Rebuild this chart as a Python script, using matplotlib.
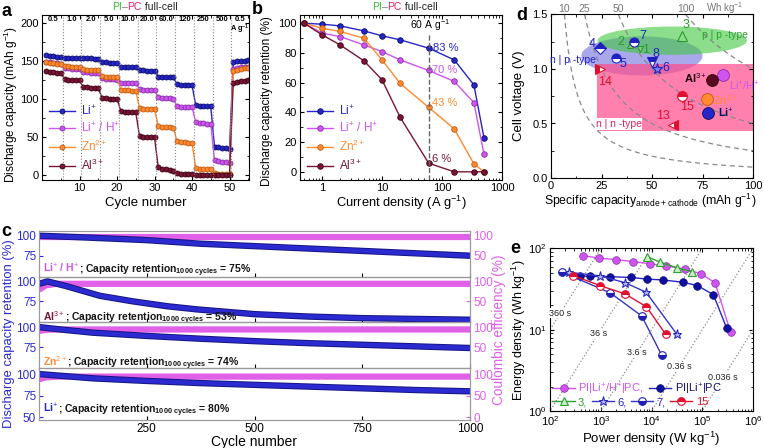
import numpy as np
import matplotlib
matplotlib.use('Agg')
import matplotlib.pyplot as plt
from matplotlib.patches import Ellipse, Rectangle
import matplotlib.patheffects as pe
from matplotlib.ticker import FormatStrFormatter, FixedLocator, FixedFormatter

plt.rcParams['font.family'] = ['Liberation Sans', 'DejaVu Sans']
plt.rcParams['mathtext.fontset'] = 'custom'
plt.rcParams['mathtext.rm'] = 'Liberation Sans'
plt.rcParams['mathtext.bf'] = 'Liberation Sans:bold'
plt.rcParams['mathtext.it'] = 'Liberation Sans:italic'
plt.rcParams['font.size'] = 7.5
plt.rcParams['axes.linewidth'] = 0.8

# ---------------- data ----------------
# panel a: rate capability, 5 cycles per rate
rates_a = ['0.5', '1.0', '2.0', '5.0', '10.0', '20.0', '60.0', '120', '250', '500']
cap_li = [157, 156, 156, 155, 155, 154, 154, 154, 153, 153, 153, 153, 153, 152, 152,
          148, 148, 147, 147, 147, 142, 142, 141, 141, 141, 138, 138, 137, 137, 137,
          129, 129, 128, 128, 128, 119, 118, 118, 118, 118, 91, 90, 90, 90, 90,
          37, 36, 35, 35, 34, 148, 149, 150, 150, 151]
cap_lih = [148, 148, 147, 147, 146, 140, 140, 139, 139, 139, 135, 135, 134, 134, 134,
           127, 126, 126, 126, 125, 121, 121, 120, 120, 120, 113, 112, 112, 112, 111,
           102, 101, 101, 101, 100, 90, 89, 89, 89, 89, 69, 68, 68, 67, 67,
           19, 18, 17, 17, 16, 139, 140, 141, 141, 142]
cap_zn = [148, 147, 147, 146, 146, 143, 143, 142, 142, 142, 139, 138, 138, 138, 138,
          130, 129, 129, 128, 128, 112, 111, 111, 110, 110, 88, 87, 87, 86, 86,
          64, 63, 63, 63, 62, 44, 43, 43, 42, 42, 9, 8, 7, 7, 7,
          2, 1, 1, 1, 1, 137, 138, 139, 140, 140]
cap_al = [136, 135, 135, 134, 134, 126, 125, 125, 124, 124, 115, 115, 114, 114, 114,
          101, 101, 100, 100, 100, 84, 83, 83, 82, 82, 51, 50, 49, 49, 49,
          10, 8, 7, 6, 5, 2, 1, 1, 1, 1, 0, 0, 0, 0, 0,
          0, 0, 0, 0, 0, 121, 122, 123, 123, 124]

# panel b: retention vs current density
cd_b = [0.5, 1, 2, 5, 10, 20, 60, 160, 340, 500]
ret_li = [100, 99.3, 98.2, 94.8, 91.5, 88.8, 83.2, 75.3, 58.5, 23]
ret_lih = [100, 93.3, 91, 85.4, 80.9, 75.3, 68.2, 60.8, 46.6, 12]
ret_zn = [100, 96.6, 94.4, 89.9, 75.3, 59.6, 43.3, 28.9, 5.4, 0]
ret_al = [100, 92.2, 85.4, 74.7, 61.9, 36.8, 5.8, 0, 0, 0]

# panel c: long cycling (retention %, coulombic efficiency %)
c_cyc_lih = [0, 100, 250, 375, 500, 625, 750, 875, 1000]
c_ret_lih = [100, 98, 94.5, 90, 87, 84, 81, 78, 75]
c_cyc_al = [0, 20, 64, 141, 218, 296, 366, 500, 625, 750, 875, 1000]
c_ret_al = [97, 100, 94, 82, 75, 69, 65, 59, 56, 54, 53, 52]
c_cyc_zn = [0, 50, 125, 250, 375, 500, 625, 750, 875, 1000]
c_ret_zn = [100, 97, 93, 89, 85.5, 82.5, 80, 78, 76, 74]
c_cyc_li = [0, 50, 125, 250, 375, 500, 625, 750, 875, 1000]
c_ret_li = [100, 98, 95, 92, 89.5, 87.5, 85.5, 83.5, 81.5, 80]
ce_cyc = [0, 15, 40, 1000]
ce_lih = [97, 97, 97, 97]
ce_al = [79, 90, 94, 94]
ce_zn = [90, 93, 94, 94]
ce_li = [88, 92, 94, 94]
c_labels = [r'Li$^{+}$ / H$^{+}$', r'Al$^{3+}$', r'Zn$^{2+}$', r'Li$^{+}$']
c_retention = ['75%', '53%', '74%', '80%']

# panel d: voltage vs capacity
d_energy = [10, 25, 50, 100]
d_ref_ids = ['1', '2', '3', '4', '5', '6', '7', '8', '13', '14', '15']
d_ref_cap = [44, 39, 65, 24.4, 32, 52.6, 41.1, 50.2, 60.2, 24.5, 64.7]
d_ref_volt = [1.18, 1.22, 1.30, 1.195, 1.098, 0.997, 1.245, 1.06, 0.49, 0.997, 0.752]
d_ion_cap = [77.9, 85.1, 77.1, 79.6]
d_ion_volt = [0.60, 0.942, 0.722, 0.899]

# panel e: Ragone
e_p_lih = [440, 935, 1990, 4370, 9300, 19400, 45700, 93000, 178000, 363000]
e_e_lih = [82, 76, 73, 69, 65, 61, 56, 49, 38, 9.3]
e_p_li = [390, 620, 1520, 3900, 8300, 16600, 41000, 80000, 166000, 302000]
e_e_li = [46, 45.5, 45, 44, 42, 41, 38.5, 35, 27, 10.5]
e_p_3 = [8300, 14800, 31600, 61700]
e_e_3 = [79, 68, 58, 52]
e_p_6 = [240, 966, 3000, 7800, 31600]
e_e_6 = [51, 46, 38, 29, 8.8]
e_p_7 = [175, 1530, 6400, 15800]
e_e_7 = [51, 28.5, 14.8, 4.9]
e_p_15 = [286, 958, 2980, 7950, 19000]
e_e_15 = [46.5, 35, 27.7, 19.2, 8.8]
e_times = ['360 s', '36 s', '3.6 s', '0.36 s', '0.036 s']

# ---------------- style ----------------
C_LI, E_LI = '#2525c8', '#0c0c66'
C_LIH, E_LIH = '#cf55f0', '#8a2aa8'
C_ZN, E_ZN = '#ff8a30', '#c05a10'
C_AL, E_AL = '#7a1535', '#3a0010'
C_PI, C_PC = '#33bb33', '#e0206a'
C_BLUE = '#2a2ad0'
C_MAG = '#e060e8'
GREY = '#777777'

W, H = 764, 448
fig = plt.figure(figsize=(W / 100, H / 100), dpi=100)


def rect(l, t, r, b):
    return [l / W, 1 - b / H, (r - l) / W, (b - t) / H]


def ftext(x, y, s, **kw):
    return fig.text(x / W, 1 - y / H, s, **kw)


def inticks(ax):
    ax.tick_params(which='both', direction='in', top=True, right=True)
    ax.tick_params(which='major', length=3, pad=2.5)
    ax.tick_params(which='minor', length=1.8)


def chain(ax, x, y, parts, **kw):
    # colored pieces of text placed one after another on the same baseline
    tr = fig.transFigure
    fig.canvas.draw()
    t = ax.text(x, y, parts[0][0], color=parts[0][1], transform=tr,
                va='baseline', ha='left', **kw)
    for s, c in parts[1:]:
        fig.canvas.draw()
        bb = t.get_window_extent()
        nx = tr.inverted().transform((bb.x1, bb.y0))[0]
        t = ax.text(nx, y, s, color=c, transform=tr, va='baseline', ha='left', **kw)


series = [('Li$^{+}$', C_LI, E_LI), ('Li$^{+}$ / H$^{+}$', C_LIH, E_LIH),
          ('Zn$^{2+}$', C_ZN, E_ZN), ('Al$^{3+}$', C_AL, E_AL)]

# ---------------- panel a ----------------
axa = fig.add_axes(rect(42, 15, 249, 180))
cycles = np.arange(1, len(cap_li) + 1)
for vals, (lab, col, ecol) in zip([cap_li, cap_lih, cap_zn, cap_al], series):
    axa.plot(cycles, vals, '-o', color=col, mfc=col, mec=ecol, ms=3.6, mew=0.6,
             lw=1.0, label=lab)
for k in range(1, 11):
    axa.axvline(5 * k + 0.5, color='#888888', ls=':', lw=0.8)
for k, r in enumerate(rates_a):
    axa.text(5 * k + 3, 204, r, ha='center', va='center', fontsize=5.5, fontweight='bold')
axa.text(52.9, 204, '0.5', ha='center', va='center', fontsize=5.5, fontweight='bold')
axa.text(52.9, 191.5, 'A g$^{\\mathbf{-1}}$', ha='center', va='center', fontsize=5.3,
         fontweight='bold')
axa.set_xlim(0, 55.2)
axa.set_ylim(-7, 210)
axa.set_xticks([10, 20, 30, 40, 50])
axa.set_xticks([5, 15, 25, 35, 45, 55], minor=True)
axa.set_yticks([0, 50, 100, 150, 200])
axa.set_yticks([25, 75, 125, 175], minor=True)
inticks(axa)
axa.tick_params(labelsize=8)
lg = axa.legend(loc='lower left', frameon=False, fontsize=8.5, handlelength=2.2,
                borderaxespad=0.2, labelspacing=0.3, handletextpad=0.5)
for txt, (_, col, _) in zip(lg.get_texts(), series):
    txt.set_color(col)
ftext(11, 104, 'Discharge capacity (mAh g$^{-1}$)', rotation=90, ha='center',
      va='center', fontsize=8.6)
ftext(146, 203, 'Cycle number', ha='center', va='center', fontsize=9.5)

# ---------------- panel b ----------------
axb = fig.add_axes(rect(300, 15, 502, 180))
for vals, (lab, col, ecol) in zip([ret_li, ret_lih, ret_zn, ret_al], series):
    axb.plot(cd_b, vals, '-o', color=col, mfc=col, mec=ecol, ms=4, mew=0.6,
             lw=1.0, label=lab)
axb.axvline(60, ymax=0.885, color='#666666', ls='--', lw=1.0)
axb.set_xscale('log')
axb.set_xlim(0.43, 1000)
axb.set_ylim(-5.5, 105.5)
axb.set_yticks([0, 20, 40, 60, 80, 100])
axb.set_yticks([10, 30, 50, 70, 90], minor=True)
axb.xaxis.set_major_locator(FixedLocator([1, 10, 100, 1000]))
axb.xaxis.set_major_formatter(FixedFormatter(['1', '10', '100', '1000']))
inticks(axb)
axb.tick_params(labelsize=8)
axb.text(64, 98.5, '60 A g$^{-1}$', ha='center', va='center', fontsize=7.5)
axb.text(70, 83.2, '83 %', color=C_LI, va='center', fontsize=8)
axb.text(67, 68.4, '70 %', color=C_LIH, va='center', fontsize=8)
axb.text(67, 46.5, '43 %', color=C_ZN, va='center', fontsize=8)
axb.text(67, 8.5, '6 %', color=C_AL, va='center', fontsize=8)
lg = axb.legend(loc='lower left', frameon=False, fontsize=8.5, handlelength=2.2,
                borderaxespad=0.2, labelspacing=0.3, handletextpad=0.5)
for txt, (_, col, _) in zip(lg.get_texts(), series):
    txt.set_color(col)
ftext(267, 101, 'Discharge capacity retention (%)', rotation=90, ha='center',
      va='center', fontsize=8.5)
ftext(401, 203, 'Current density (A g$^{-1}$)', ha='center', va='center', fontsize=9.3)

# titles "PI-PC full-cell"
for x0 in (112 / W, 372 / W):
    chain(axa, x0, 1 - 10 / H, [('PI', C_PI), ('–', GREY), ('PC', C_PC),
                                (' full-cell', '#222222')], fontsize=7.5)

# ---------------- panel c ----------------
c_bounds = [231, 276.7, 322.3, 368.3, 420]
c_sets = [(c_cyc_lih, c_ret_lih, ce_lih), (c_cyc_al, c_ret_al, ce_al),
          (c_cyc_zn, c_ret_zn, ce_zn), (c_cyc_li, c_ret_li, ce_li)]
c_label_cols = [C_LIH, C_AL, C_ZN, C_LI]
c_text_y = [273, 321, 366, 413]
for i, (cyc, ret, ce) in enumerate(c_sets):
    ax = fig.add_axes(rect(39, c_bounds[i], 470, c_bounds[i + 1]))
    axr = ax.twinx()
    last = i == 3
    axr.plot(ce_cyc, ce, color=C_MAG, lw=4.5, solid_capstyle='butt')
    ax.plot(cyc, ret, color=C_BLUE, lw=3.2, solid_capstyle='butt',
            path_effects=[pe.Stroke(linewidth=4.6, foreground='#151580'), pe.Normal()])
    ax.set_zorder(axr.get_zorder() + 1)
    ax.patch.set_visible(False)
    ax.set_xlim(0, 1000)
    if last:
        ax.set_ylim(46.9, 106.6)
        ax.set_yticks([50, 75, 100])
        axr.set_ylim(-6.2, 113.2)
        axr.set_yticks([0, 50, 100])
    else:
        ax.set_ylim(48.8, 105.9)
        ax.set_yticks([75, 100])
        axr.set_ylim(-2.4, 111.8)
        axr.set_yticks([50, 100])
    ax.set_xticks([250, 500, 750, 1000])
    ax.tick_params(axis='x', direction='in', length=3, labelbottom=last, labelsize=8.5,
                   pad=2.5)
    ax.tick_params(axis='y', direction='in', length=3, colors=C_BLUE, labelsize=8.5,
                   pad=2)
    axr.tick_params(axis='y', direction='in', length=3, colors=C_MAG, labelsize=8.5,
                    pad=2.5)
    for a in (ax, axr):
        for sp in a.spines.values():
            sp.set_color('#9a9a9a')
    chain(ax, 43 / W, 1 - c_text_y[i] / H,
          [(c_labels[i], c_label_cols[i]),
           ('; Capacity retention$_{\\mathbf{1000\\ cycles}}$ = ' + c_retention[i],
            '#151515')], fontsize=7.5, fontweight='bold')
ftext(9, 334, 'Discharge capacity retention (%)', rotation=90, ha='center',
      va='center', fontsize=9.4, color=C_BLUE)
ftext(499, 330, 'Coulombic efficiency (%)', rotation=90, ha='center', va='center',
      fontsize=9.8, color=C_MAG)
ftext(254, 442, 'Cycle number', ha='center', va='center', fontsize=10)

# ---------------- panel d ----------------
axd = fig.add_axes(rect(551, 14.5, 753, 178))
axd.add_patch(Ellipse((45, 1.12), 60, 0.36, facecolor='#6f6fdc', alpha=0.6, lw=0))
axd.add_patch(Ellipse((60, 1.26), 74, 0.26, facecolor='#3fc83f', alpha=0.6, lw=0))
axd.add_patch(Rectangle((22.7, 0.434), 77.3, 0.609, facecolor='#ff4f8c', alpha=0.72, lw=0))
for E in d_energy:
    cc = np.linspace(E / 1.5, 100, 200)
    axd.plot(cc, E / cc, ls='--', color='#888888', lw=0.9, dashes=(4, 3))
    axd.text(E / 1.5, 1.55, str(E), ha='center', va='center', color=GREY, fontsize=7.5,
             clip_on=False)
axd.text(86, 1.555, 'Wh kg$^{-1}$', ha='center', va='center', color=GREY, fontsize=7)

ref_style = {
    '1': dict(marker='v', color='#2a9a2a', mfc='#7ed07e', fillstyle='full', ms=5),
    '2': dict(marker='^', color='#2a9a2a', mfc='#7ed07e', fillstyle='full', ms=5),
    '3': dict(marker='^', color='#2a9a2a', mfc='none', fillstyle='none', ms=7),
    '4': dict(marker='D', color='#2020c0', fillstyle='top', ms=6),
    '5': dict(marker='o', color='#2020c0', fillstyle='top', ms=6.5),
    '6': dict(marker='*', color='#2020c0', mfc='#8080ff', fillstyle='full', ms=8),
    '7': dict(marker='o', color='#2020c0', fillstyle='top', ms=6.5),
    '8': dict(marker='v', color='#2020c0', fillstyle='top', ms=6.5),
    '13': dict(marker='<', color='#e01030', fillstyle='right', ms=6.5),
    '14': dict(marker='>', color='#e01030', fillstyle='left', ms=6.5),
    '15': dict(marker='o', color='#e01030', fillstyle='top', ms=7),
}
for rid, cx, vy in zip(d_ref_ids, d_ref_cap, d_ref_volt):
    st = dict(ref_style[rid])
    axd.plot([cx], [vy], ls='none', mfcalt='white', mew=0.8, **st)
ref_lab = {'1': (46.9, 1.17, '#2a9a2a'), '2': (34.8, 1.245, '#2a9a2a'),
           '3': (66.7, 1.40, '#2a9a2a'), '4': (20.3, 1.23, '#2020c0'),
           '5': (35.8, 1.045, '#2020c0'), '6': (57.0, 1.006, '#2020c0'),
           '7': (45.3, 1.30, '#2020c0'), '8': (51.9, 1.14, '#2020c0'),
           '13': (55.2, 0.57, '#e01030'), '14': (27.0, 0.88, '#e01030'),
           '15': (67.2, 0.655, '#e01030')}
for rid, (lx, ly, lc) in ref_lab.items():
    axd.text(lx, ly, rid, color=lc, ha='center', va='center', fontsize=9)
ion_cols = [(C_LI, E_LI), (C_LIH, E_LIH), (C_ZN, E_ZN), ('#5a0a20', '#2a0008')]
for cx, vy, (fc, ec) in zip(d_ion_cap, d_ion_volt, ion_cols):
    axd.plot([cx], [vy], 'o', mfc=fc, mec=ec, ms=8.5, mew=0.6)
axd.text(82.8, 0.594, 'Li$^{+}$', color=E_LI, va='center', fontsize=8, fontweight='bold')
axd.text(88.0, 0.84, 'Li$^{+}$/H$^{+}$', color=C_LIH, va='center', fontsize=8)
axd.text(80.3, 0.716, 'Zn$^{2+}$', color=C_ZN, va='center', fontsize=8)
axd.text(66.0, 0.915, 'Al$^{3+}$', color='#1a0008', va='center', fontsize=8,
         fontweight='bold')
axd.text(86, 1.31, 'p | p -type', color='#2ca02c', ha='center', va='center', fontsize=7.5)
axd.text(11, 1.08, 'n | p -type', color='#2020d0', ha='center', va='center', fontsize=7.5)
axd.text(33.5, 0.495, 'n | n -type', color='#e0206a', ha='center', va='center',
         fontsize=7.5, bbox=dict(facecolor='white', edgecolor='none', pad=0.5))
axd.set_xlim(0, 100)
axd.set_ylim(0, 1.5)
axd.set_xticks([0, 25, 50, 75, 100])
axd.set_xticks([12.5, 37.5, 62.5, 87.5], minor=True)
axd.set_yticks([0, 0.5, 1.0, 1.5])
axd.set_yticks([0.25, 0.75, 1.25], minor=True)
axd.yaxis.set_major_formatter(FormatStrFormatter('%.1f'))
inticks(axd)
axd.tick_params(labelsize=8)
ftext(519, 96, 'Cell voltage (V)', rotation=90, ha='center', va='center', fontsize=9.5)
ftext(650, 201, 'Specific capacity$_{\\mathrm{anode+cathode}}$ (mAh g$^{-1}$)',
      ha='center', va='center', fontsize=8.8)

# ---------------- panel e ----------------
axe = fig.add_axes(rect(550, 248.5, 753, 411))
axe.set_xscale('log')
axe.set_yscale('log')
axe.set_xlim(1e2, 1e6)
axe.set_ylim(1e0, 1e2)
t_hours = [0.1, 0.01, 0.001, 0.0001, 0.00001]
t_lab_e = [16, 8.9, 5.2, 3.5, 2.6]
for th, tl, le in zip(t_hours, e_times, t_lab_e):
    pp = np.array([1e1, 1e8])
    axe.plot(pp, pp * th, ls=':', color='#8a8a8a', lw=0.9)
    axe.text(le / th, le, tl, ha='center', va='center', fontsize=6.5, color='#222222',
             bbox=dict(facecolor='white', edgecolor='none', pad=0.3))
h1, = axe.plot(e_p_lih, e_e_lih, '-o', color=C_LIH, mfc=C_LIH, mec=E_LIH, ms=5.5,
               mew=0.5, lw=1.0, label='PI|Li$^{+}$/H$^{+}$|PC,')
h2, = axe.plot(e_p_li, e_e_li, '-o', color=C_LI, mfc='#1010a0', mec=E_LI, ms=5.5,
               mew=0.5, lw=1.0, label='PI|Li$^{+}$|PC')
h3, = axe.plot(e_p_3, e_e_3, '-^', color='#2ca02c', mfc='#c8f0c8', mec='#2ca02c', ms=5.5,
               mew=0.8, lw=1.0, label='3,')
h4, = axe.plot(e_p_6, e_e_6, '-*', color='#3535c8', mfc='#b0b0ff', mec='#2020b0', ms=6.5,
               mew=0.7, lw=1.0, label='6,')
h5, = axe.plot(e_p_7, e_e_7, '-o', color='#3535c8', fillstyle='bottom', mfc='#2020b0',
               mfcalt='white', mec='#2020b0', ms=5.5, mew=0.8, lw=1.0, label='7,')
h6, = axe.plot(e_p_15, e_e_15, '-o', color='#e01030', fillstyle='top', mfc='#e01030',
               mfcalt='white', mec='#e01030', ms=5.5, mew=0.8, lw=1.0, label='15')
inticks(axe)
axe.tick_params(labelsize=8)
lg1 = axe.legend([h1, h2], [h1.get_label(), h2.get_label()], ncol=2, loc='lower left',
                 bbox_to_anchor=(-0.01, 0.06), frameon=False, fontsize=8,
                 handlelength=2.0, columnspacing=0.5, handletextpad=0.3, borderaxespad=0)
for txt, col in zip(lg1.get_texts(), [C_LIH, '#101070']):
    txt.set_color(col)
axe.add_artist(lg1)
lg2 = axe.legend([h3, h4, h5, h6], ['3,', '6,', '7,', '15'], ncol=4, loc='lower left',
                 bbox_to_anchor=(-0.01, -0.005), frameon=False, fontsize=8,
                 handlelength=2.0, columnspacing=0.4, handletextpad=0.3, borderaxespad=0)
for txt, col in zip(lg2.get_texts(), ['#2ca02c', '#2525c8', '#2525c8', '#e01030']):
    txt.set_color(col)
ftext(519, 330, 'Energy density (Wh kg$^{-1}$)', rotation=90, ha='center', va='center',
      fontsize=9)
ftext(651, 439, 'Power density (W kg$^{-1}$)', ha='center', va='center', fontsize=9.5)

# panel letters
for s, x, y in [('a', 6, 12), ('b', 257, 10), ('c', 6, 231), ('d', 522, 16),
                ('e', 515, 248)]:
    ftext(x, y, s, ha='center', va='center', fontsize=13, fontweight='bold')

fig.savefig('out.png', dpi=100)
